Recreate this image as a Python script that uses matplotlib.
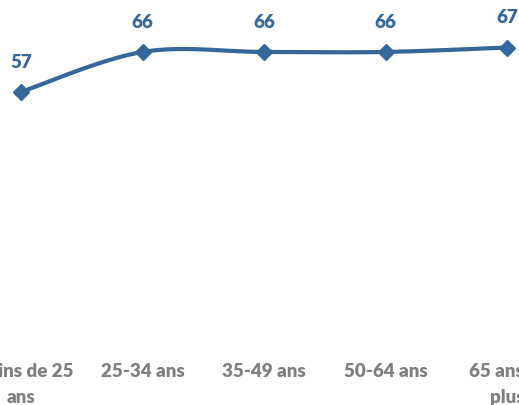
import numpy as np
import matplotlib.pyplot as plt

# Données
categories = ["Moins de 25\nans", "25-34 ans", "35-49 ans", "50-64 ans", "65 ans et\nplus"]
valeurs = [57, 66, 66, 66, 67]

couleur = "#35679a"


# Courbe lissée façon Excel (Catmull-Rom -> Bezier)
def courbe_lissee(x, y, n=40):
    x = np.asarray(x, float)
    y = np.asarray(y, float)
    px = np.concatenate([[x[0]], x, [x[-1]]])
    py = np.concatenate([[y[0]], y, [y[-1]]])
    xs, ys = [], []
    t = np.linspace(0, 1, n)
    for i in range(1, len(px) - 2):
        p0 = np.array([px[i], py[i]])
        p3 = np.array([px[i + 1], py[i + 1]])
        p1 = p0 + (np.array([px[i + 1], py[i + 1]]) - np.array([px[i - 1], py[i - 1]])) / 6
        p2 = p3 - (np.array([px[i + 2], py[i + 2]]) - np.array([px[i], py[i]])) / 6
        b = ((1 - t) ** 3)[:, None] * p0 + (3 * (1 - t) ** 2 * t)[:, None] * p1 \
            + (3 * (1 - t) * t ** 2)[:, None] * p2 + (t ** 3)[:, None] * p3
        xs.extend(b[:, 0])
        ys.extend(b[:, 1])
    return np.array(xs), np.array(ys)


plt.rcParams['font.family'] = ['Lato', 'DejaVu Sans']

fig = plt.figure(figsize=(5.19, 4.06), dpi=100)
ax = fig.add_axes([0, 60 / 406, 1, 346 / 406])

x = np.arange(len(valeurs))
xs, ys = courbe_lissee(x, valeurs)
ax.plot(xs, ys, color=couleur, lw=3, solid_capstyle="round")
ax.plot(x, valeurs, "D", color=couleur, ms=8, mec=couleur)

for xi, v in zip(x, valeurs):
    ax.annotate(str(v), (xi, v), xytext=(0, 22), textcoords="offset points",
                ha="center", va="center", color=couleur, fontsize=13.5, fontweight="heavy")

ax.set_xlim(-21 / 121.5, 4 + 12 / 121.5)
ax.set_ylim(0, 346 / 4.44)
ax.set_xticks(x)
ax.set_xticklabels(categories, color="#7f7f7f", fontsize=13.5, fontweight="heavy",
                   linespacing=1.65)
ax.tick_params(axis="x", length=0, pad=12)
ax.set_yticks([])
for s in ax.spines.values():
    s.set_visible(False)

fig.savefig("out.png", dpi=100)
